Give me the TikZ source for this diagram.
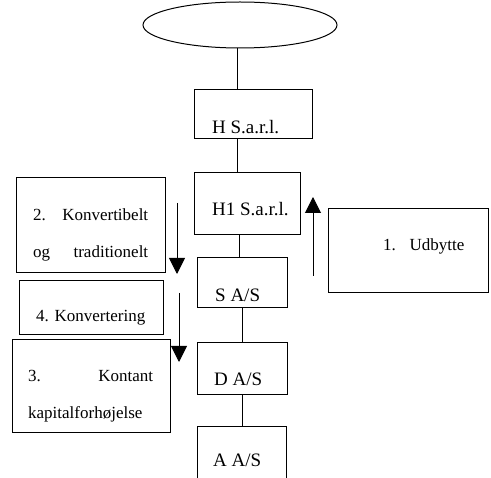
\documentclass[tikz,border=0pt]{standalone}
\usepackage{fontspec}
\setmainfont{Liberation Serif}
\usetikzlibrary{arrows.meta}
\begin{document}
\begin{tikzpicture}[x=1pt,y=-1pt,
  box/.style={draw,line width=1pt,inner sep=0pt},
  lbl/.style={inner sep=0pt,anchor=base west,font=\fontsize{17}{20}\selectfont},
  blbl/.style={lbl,font=\fontsize{19}{22}\selectfont},
  conn/.style={line width=1pt},
  flow/.style={line width=1pt,-{Triangle[length=16pt,width=16pt]}}]
\useasboundingbox (0,0) rectangle (491,478);
% ellipse
\draw[line width=1pt] (240,25) ellipse (97 and 23);
\coordinate (ell) at (237,48);
% boxes
\node[box,minimum width=118pt,minimum height=49pt] (H) at (253,114.5) {};
\node[box,minimum width=106pt,minimum height=62pt] (H1) at (247,204) {};
\node[box,minimum width=90pt,minimum height=50pt] (S) at (242,283) {};
\node[box,minimum width=90pt,minimum height=52pt] (D) at (242,369) {};
\draw[line width=1pt] (197,478) |- (286.5,427) -- (286.5,478);
\coordinate (Atop) at (242,427);
\node[box,minimum width=160pt,minimum height=84pt] (U) at (408,251) {};
\node[box,minimum width=149pt,minimum height=95pt] (K2) at (90.5,225.5) {};
\node[box,minimum width=144pt,minimum height=54pt] (K4) at (91,308) {};
\node[box,minimum width=158pt,minimum height=93pt] (K3) at (91,386.5) {};
% texts
\node[blbl] (tH) at (212,134) {H S.a.r.l.};
\node[blbl] (tH1) at (212,216) {H1 S.a.r.l.};
\node[blbl] (tS) at (215,302) {S A/S};
\node[blbl] (tD) at (214,386) {D A/S};
\node[blbl] (tA) at (213,467) {A A/S};
\node[lbl] (tU) at (383,251) {1.\hspace{0.8em}Udbytte};
\node[lbl,text width=115pt,align=left] (tK2a) at (33,221) {2.\hfill Konvertibelt};
\node[lbl,text width=115pt,align=left] (tK2b) at (33,258) {og\hfill traditionelt};
\node[lbl] (tK4) at (36,322) {4. Konvertering};
\node[lbl,text width=125pt,align=left] (tK3a) at (28,382) {3.\hfill Kontant};
\node[lbl] (tK3b) at (28,419) {kapitalforhøjelse};
% connectors
\draw[conn] (ell) -- (237,90);
\draw[conn] (237,139) -- (237,173);
\draw[conn] (239,235) -- (239,258);
\draw[conn] (242,308) -- (242,343);
\draw[conn] (242,395) -- (Atop);
% arrows
\coordinate (u0) at (313,276);
\coordinate (u1) at (313,197);
\draw[flow] (u0) -- (u1);
\coordinate (a0) at (177,203);
\coordinate (a1) at (177,274);
\draw[flow] (a0) -- (a1);
\coordinate (b0) at (179,293);
\coordinate (b1) at (179,362);
\draw[flow] (b0) -- (b1);
\end{tikzpicture}
\end{document}
